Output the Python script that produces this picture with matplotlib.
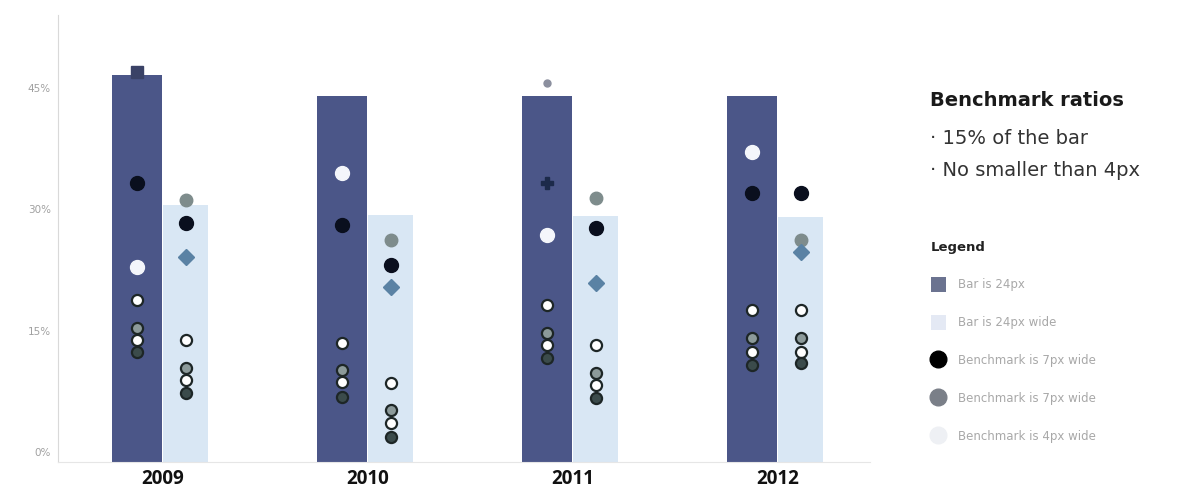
import numpy as np
import matplotlib
matplotlib.use("Agg")
import matplotlib.pyplot as plt
from matplotlib.patches import Patch
from matplotlib.lines import Line2D
from matplotlib.transforms import ScaledTranslation

nan = np.nan

years = ["2009", "2010", "2011", "2012"]
bar_dark = [47.8, 45.2, 45.2, 45.2]
bar_light = [31.7, 30.5, 30.4, 30.3]

# benchmarks drawn on the dark bar
dark_cap = [48.2, nan, nan, nan]
dark_tip = [nan, nan, 46.8, nan]
dark_black = [34.4, 29.3, nan, 33.2]
dark_star = [nan, nan, 34.4, nan]
dark_white = [24.1, 35.7, 28.0, 38.3]
dark_ring = [20.0, 14.7, 19.4, 18.8]
dark_c1 = [16.5, 11.4, 15.9, 15.3]
dark_c2 = [15.1, 9.9, 14.4, 13.6]
dark_c3 = [13.6, 8.0, 12.8, 12.0]

# benchmarks drawn on the light bar
light_gray = [32.3, 27.4, 32.6, 27.4]
light_black = [29.5, 24.3, 28.9, 33.2]
light_diamond = [25.3, 21.6, 22.1, 25.9]
light_ring = [15.1, 9.8, 14.4, 18.8]
light_c1 = [11.6, 6.4, 11.0, 15.3]
light_c2 = [10.1, 4.8, 9.5, 13.6]
light_c3 = [8.5, 3.1, 7.9, 12.2]

yticks = [0, 15, 30, 45]
ytick_labels = ["0%", "15%", "30%", "45%"]

DARK = "#4b5688"
LIGHT = "#d9e7f4"

fig = plt.figure(figsize=(11.8, 4.96), dpi=100)
ax = fig.add_axes([58 / 1180, 34 / 496, 812 / 1180, 447 / 496])

x = np.arange(len(years))
xd = x - 0.127
xl = x + 0.112

ax.bar(xd, bar_dark, width=0.244, color=DARK, zorder=2)
ax.bar(xl, bar_light, width=0.22, color=LIGHT, zorder=1)


def dots(xs, ys, **kw):
    ax.plot(xs, ys, linestyle="none", zorder=3, **kw)


dots(xd, dark_cap, marker="s", ms=8, color="#3a4266")
dots(xd, dark_tip, marker="o", ms=5, color="#8b8f9e")
dots(xd, dark_black, marker="o", ms=10, color="#0a0f1e")
dots(xd, dark_star, marker="P", ms=9, color="#1c2a4a")
dots(xd, dark_white, marker="o", ms=10, color="#f4f6fb")
dots(xd, dark_ring, marker="o", ms=8, mfc="white", mec="#1d2626", mew=1.6)
dots(xd, dark_c1, marker="o", ms=8, mfc="#8c9a9a", mec="#1d2626", mew=1.6)
dots(xd, dark_c2, marker="o", ms=8, mfc="white", mec="#1d2626", mew=1.6)
dots(xd, dark_c3, marker="o", ms=8, mfc="#3b4b4b", mec="#1d2626", mew=1.6)

dots(xl, light_gray, marker="o", ms=9, color="#7e8c8c")
dots(xl, light_black, marker="o", ms=10, color="#0a0f1e")
dots(xl, light_diamond, marker="D", ms=8, color="#5a82a4")
dots(xl, light_ring, marker="o", ms=8, mfc="white", mec="#1d2626", mew=1.6)
dots(xl, light_c1, marker="o", ms=8, mfc="#8c9a9a", mec="#1d2626", mew=1.6)
dots(xl, light_c2, marker="o", ms=8, mfc="white", mec="#1d2626", mew=1.6)
dots(xl, light_c3, marker="o", ms=8, mfc="#3b4b4b", mec="#1d2626", mew=1.6)

ax.set_xlim(-0.512, 3.449)
ax.set_ylim(0, 55.2)
ax.set_xticks(x)
ax.set_xticklabels(years, fontsize=13.5, fontweight="bold", family="Open Sans", color="#111111")
ax.set_yticks(yticks)
ax.set_yticklabels(ytick_labels, fontsize=7.5, color="#a0a0a0")
ax.tick_params(axis="both", length=0)
ax.tick_params(axis="x", pad=5)
ax.tick_params(axis="y", pad=5)
for lab in ax.get_yticklabels():
    lab.set_transform(lab.get_transform() + ScaledTranslation(0, 10 / 100, fig.dpi_scale_trans))

for s in ["top", "right"]:
    ax.spines[s].set_visible(False)
ax.spines["left"].set_color("#d9d9d9")
ax.spines["bottom"].set_color("#e6e6e6")

# note block on the right
fig.text(930 / 1180, 1 - 100 / 496, "Benchmark ratios", fontsize=14, fontweight="bold",
         family="DejaVu Sans", color="#1a1a1a", va="center")
fig.text(930 / 1180, 1 - 139 / 496, "\u00b7 15% of the bar", fontsize=14,
         family="DejaVu Sans", color="#333333", va="center")
fig.text(930 / 1180, 1 - 171 / 496, "\u00b7 No smaller than 4px", fontsize=14,
         family="DejaVu Sans", color="#333333", va="center")

handles = [
    Patch(facecolor="#6b7390", edgecolor="none"),
    Patch(facecolor="#e4e9f4", edgecolor="none"),
    Line2D([], [], linestyle="none", marker="o", ms=12, color="#000000"),
    Line2D([], [], linestyle="none", marker="o", ms=12, color="#7a7f88"),
    Line2D([], [], linestyle="none", marker="o", ms=12, color="#eef0f4"),
]
labels = ["Bar is 24px", "Bar is 24px wide", "Benchmark is 7px wide",
          "Benchmark is 7px wide", "Benchmark is 4px wide"]
leg = fig.legend(handles, labels, loc="upper left", bbox_to_anchor=(920 / 1180, 1 - 230 / 496),
                 frameon=False, fontsize=8.5, labelspacing=2.0, handlelength=1.3,
                 handleheight=1.5, handletextpad=1.0, title="Legend", alignment="left",
                 title_fontproperties={"weight": "bold", "size": 9.5})
for t in leg.get_texts():
    t.set_color("#a8a8a8")
leg.get_title().set_color("#222222")

fig.savefig("out.png", dpi=100)
